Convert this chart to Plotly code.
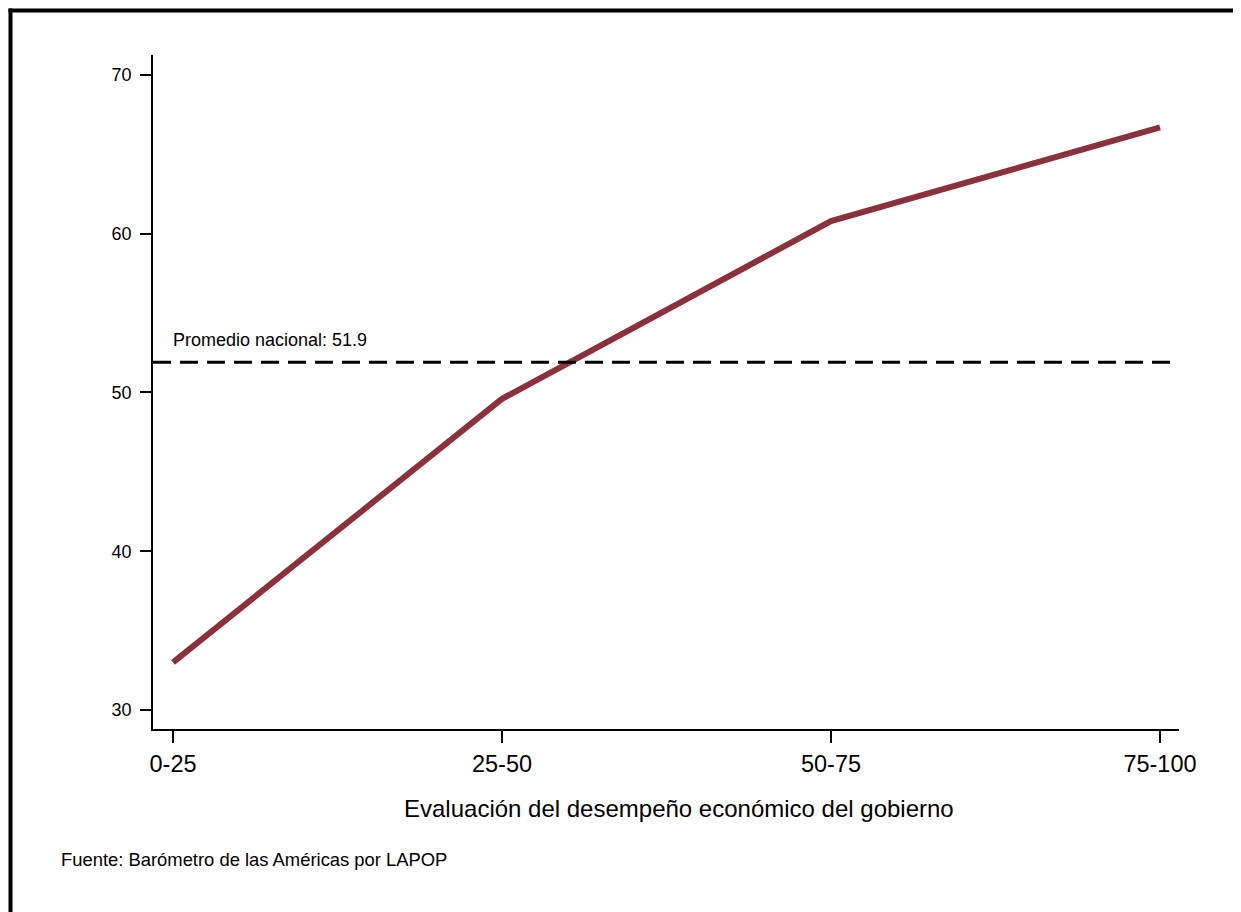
import plotly.graph_objects as go

categories = ["0-25", "25-50", "50-75", "75-100"]
values = [33.0, 49.6, 60.8, 66.7]
national_avg = 51.9
y_ticks = [30, 40, 50, 60, 70]

W, H = 1241, 912
OFF = 8  # default page body margin
L, R, T, B = 153, 1179, 55, 729  # plot area in screen pixels
pw, ph = R - L, B - T

def px(x):
    return (x - L) / pw

def py(y):
    return (B - y) / ph

font = "Liberation Sans, Arial, sans-serif"

fig = go.Figure()
fig.add_trace(go.Scatter(
    x=categories, y=values, mode="lines",
    line=dict(color="#8C313B", width=6),
    showlegend=False, hoverinfo="skip",
))

fig.add_shape(type="line", xref="paper", yref="y", x0=0, x1=1,
              y0=national_avg, y1=national_avg,
              line=dict(color="black", width=3, dash="18px,9px"))

fig.add_annotation(x=0, y=national_avg, xref="x", yref="y",
                   text=f"Promedio nacional: {national_avg}",
                   showarrow=False, xanchor="left", yanchor="middle",
                   yshift=22, xshift=-2,
                   font=dict(family=font, size=18, color="black"))

fig.add_annotation(x=px(679), y=py(808), xref="paper", yref="paper",
                   text="Evaluación del desempeño económico del gobierno",
                   showarrow=False, xanchor="center", yanchor="middle",
                   font=dict(family=font, size=24, color="black"))

fig.add_annotation(x=px(59), y=py(859), xref="paper", yref="paper",
                   text="Fuente: Barómetro de las Américas por LAPOP",
                   showarrow=False, xanchor="left", yanchor="middle",
                   font=dict(family=font, size=18.4, color="black"))

# outer frame (left and top edges)
fig.add_shape(type="line", xref="paper", yref="paper",
              x0=px(10.5), x1=px(10.5), y0=py(8.5), y1=py(930),
              line=dict(color="black", width=4))
fig.add_shape(type="line", xref="paper", yref="paper",
              x0=px(8.5), x1=px(1260), y0=py(10.5), y1=py(10.5),
              line=dict(color="black", width=4))

fig.update_layout(
    width=W, height=H,
    margin=dict(l=L - OFF, r=W - (R - OFF), t=T - OFF, b=H - (B - OFF), pad=0),
    paper_bgcolor="white", plot_bgcolor="white",
    font=dict(family=font, color="black"),
    xaxis=dict(type="category", range=[-0.0608, 3.0578],
               showline=True, linecolor="black", linewidth=1.5,
               ticks="outside", ticklen=12, tickwidth=1.5, tickcolor="black",
               showgrid=False, zeroline=False, ticklabelstandoff=1,
               tickfont=dict(family=font, size=23.5, color="black")),
    yaxis=dict(range=[28.8, 71.26], tickvals=y_ticks,
               showline=True, linecolor="black", linewidth=1.5,
               ticks="outside", ticklen=11, tickwidth=1.5, tickcolor="black",
               showgrid=False, zeroline=False, ticklabelstandoff=5,
               tickfont=dict(family=font, size=18, color="black")),
)

fig.write_html("out.html")
